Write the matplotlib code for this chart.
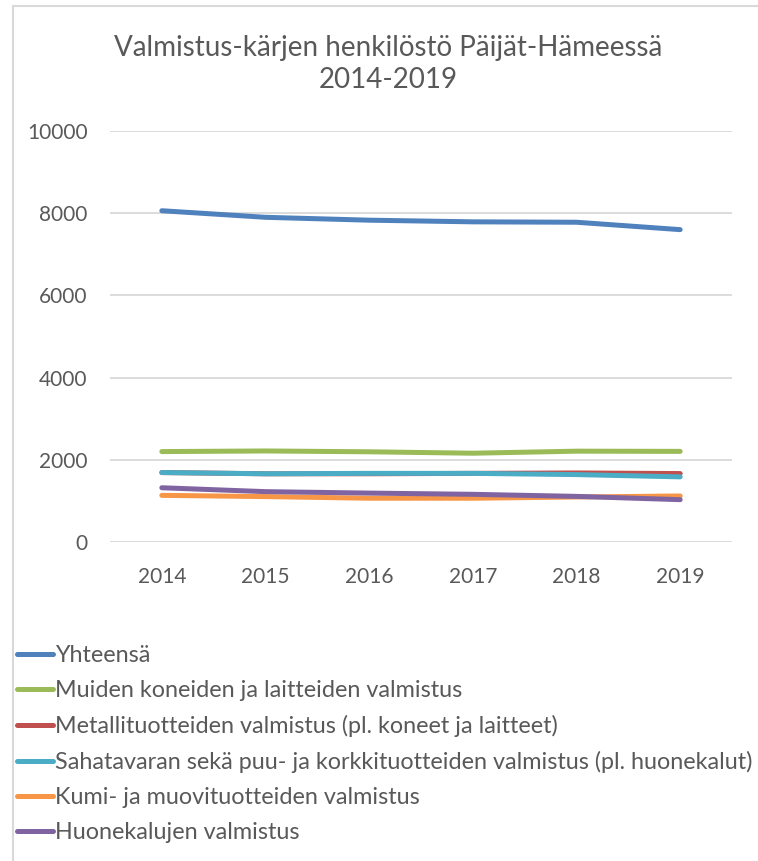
import matplotlib.pyplot as plt
from matplotlib.lines import Line2D
from matplotlib.patches import Rectangle

years = [2014, 2015, 2016, 2017, 2018, 2019]

yhteensa = [8060, 7900, 7830, 7790, 7780, 7600]
muiden_koneiden = [2200, 2215, 2195, 2160, 2210, 2205]
metallituotteiden = [1690, 1660, 1660, 1670, 1680, 1665]
sahatavaran = [1690, 1660, 1670, 1670, 1640, 1585]
kumi_muovi = [1135, 1105, 1065, 1065, 1095, 1120]
huonekalujen = [1320, 1225, 1190, 1160, 1110, 1030]

series = [
    ("Yhteensä", yhteensa, "#4F81BD"),
    ("Muiden koneiden ja laitteiden valmistus", muiden_koneiden, "#9BBB59"),
    ("Metallituotteiden valmistus (pl. koneet ja laitteet)", metallituotteiden, "#C0504D"),
    ("Sahatavaran sekä puu- ja korkkituotteiden valmistus (pl. huonekalut)", sahatavaran, "#4BACC6"),
    ("Kumi- ja muovituotteiden valmistus", kumi_muovi, "#F79646"),
    ("Huonekalujen valmistus", huonekalujen, "#8064A2"),
]

title = "Valmistus-kärjen henkilöstö Päijät-Hämeessä\n2014-2019"

plt.rcParams['font.family'] = ['Lato', 'DejaVu Sans']
text_col = "#595959"

fig = plt.figure(figsize=(7.58, 8.61), dpi=100)
fig.patches.append(Rectangle((13/758, -0.01), 1.0, 1 - 6/861 + 0.01, transform=fig.transFigure,
                             fill=False, edgecolor="#D9D9D9", lw=1.5))

ax = fig.add_axes([110/758, 1 - 542/861, 622/758, 411/861])

x = list(range(len(years)))
for name, vals, col in series:
    ax.plot(x, vals, color=col, lw=3.6, solid_capstyle='round', solid_joinstyle='round', label=name)

ax.set_xlim(-0.5, len(years) - 0.5)
ax.set_ylim(0, 10000)
ax.set_yticks(range(0, 10001, 2000))
ax.set_xticks(x)
ax.set_xticklabels([str(y) for y in years])
ax.grid(axis='y', color="#D9D9D9", lw=1.3)
ax.set_axisbelow(True)
for s in ax.spines.values():
    s.set_visible(False)
ax.tick_params(length=0, labelsize=15, colors=text_col, pad=16)
ax.tick_params(axis='x', pad=18)

fig.text(388/758, 1 - 64/861, title, ha='center', va='center', fontsize=20, color=text_col,
         linespacing=1.28)

leg_handles = [Line2D([0], [0], color=c, lw=3.6, solid_capstyle='round') for _, _, c in series]
fig.legend(leg_handles, [n for n, _, _ in series], loc='upper left',
           bbox_to_anchor=(17/758, 1 - 645/861), frameon=False, fontsize=16.8,
           handlelength=1.55, handletextpad=0.08, labelspacing=0.6, labelcolor=text_col,
           borderaxespad=0, borderpad=0)

fig.savefig("out.png", dpi=100)
